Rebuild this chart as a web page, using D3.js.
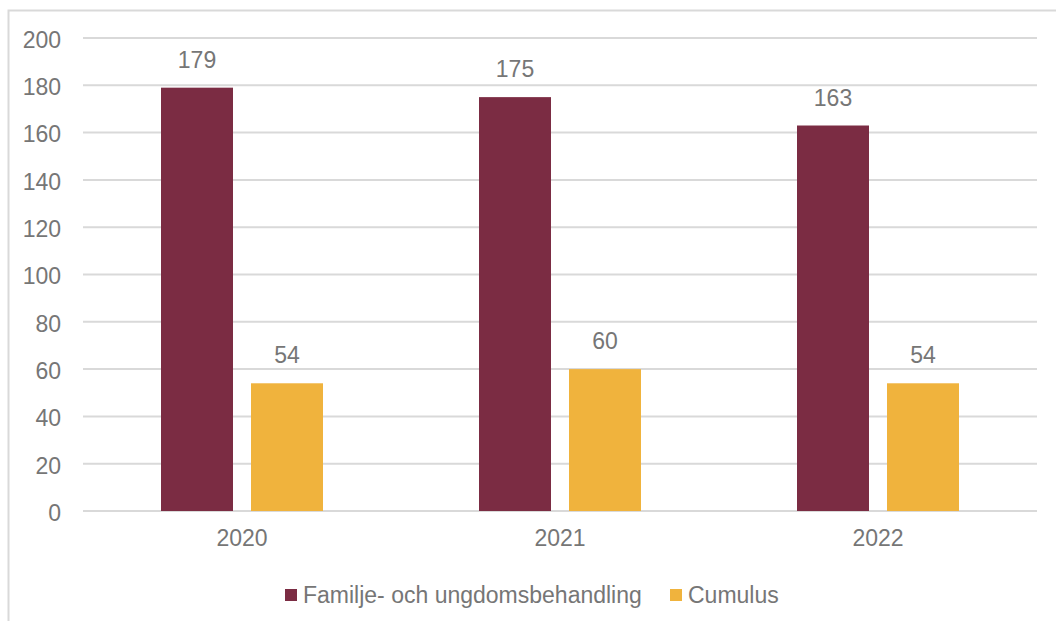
<!DOCTYPE html>
<html>
<head>
<meta charset="utf-8">
<script src="https://cdn.jsdelivr.net/npm/d3@7"></script>
<style>
  body { margin: 0; background: #fff; }
  text { font-family: "Liberation Sans", Arial, sans-serif; fill: #767676; }
</style>
</head>
<body>
<div id="chart"></div>
<script>
// data
const years = ["2020", "2021", "2022"]
const seriesNames = ["Familje- och ungdomsbehandling", "Cumulus"]
const familje = [179, 175, 163]
const cumulus = [54, 60, 54]
const yTicks = [0, 20, 40, 60, 80, 100, 120, 140, 160, 180, 200]
const colors = ["#7B2C43", "#F0B33D"]

const width = 1056, height = 621
const margin = { left: 83, right: 19, top: 38, bottom: 110 }
const fontSize = "23px"

const svg = d3.select("#chart").append("svg")
  .attr("width", width)
  .attr("height", height)

// outer chart border (only top and left edges are visible in the crop)
svg.append("rect")
  .attr("x", 8.5).attr("y", 10.5)
  .attr("width", width + 20).attr("height", height + 20)
  .attr("fill", "none")
  .attr("stroke", "#d9d9d9")
  .attr("stroke-width", 2)

const x = d3.scaleBand()
  .domain(years)
  .range([margin.left, width - margin.right])

const y = d3.scaleLinear()
  .domain([0, 200])
  .range([511, margin.top])

// gridlines
svg.selectAll(".grid").data(yTicks).enter()
  .append("line")
  .attr("class", "grid")
  .attr("x1", margin.left)
  .attr("x2", width - margin.right)
  .attr("y1", d => y(d))
  .attr("y2", d => y(d))
  .attr("stroke", "#d9d9d9")
  .attr("stroke-width", 2)

// y axis labels
const yAxis = d3.axisLeft(y).tickValues(yTicks).tickSize(0).tickPadding(0)
const gy = svg.append("g").attr("transform", "translate(61,2)").call(yAxis)
gy.select(".domain").remove()
gy.selectAll("text").style("font-size", fontSize).attr("fill", "#767676")
  .style("font-family", '"Liberation Sans", Arial, sans-serif')

// x axis labels
const xAxis = d3.axisBottom(x).tickSize(0).tickPadding(0)
const gx = svg.append("g").attr("transform", "translate(0,530)").call(xAxis)
gx.select(".domain").remove()
gx.selectAll("text").style("font-size", fontSize).attr("fill", "#767676")
  .style("font-family", '"Liberation Sans", Arial, sans-serif')

// bars
const barW = 72, gap = 18
const series = [familje, cumulus]
series.forEach((vals, si) => {
  const offset = si === 0 ? -(gap / 2 + barW) : gap / 2
  const g = svg.append("g")
  g.selectAll("rect").data(vals).enter()
    .append("rect")
    .attr("x", (d, i) => x(years[i]) + x.bandwidth() / 2 + offset)
    .attr("y", d => y(d))
    .attr("width", barW)
    .attr("height", d => y(0) - y(d))
    .attr("fill", colors[si])
  g.selectAll("text").data(vals).enter()
    .append("text")
    .attr("x", (d, i) => x(years[i]) + x.bandwidth() / 2 + offset + barW / 2)
    .attr("y", d => y(d) - 20)
    .attr("text-anchor", "middle")
    .style("font-size", fontSize)
    .text(d => d)
})

// legend
const legendX = [285, 670]
seriesNames.forEach((name, i) => {
  svg.append("rect")
    .attr("x", legendX[i]).attr("y", 589)
    .attr("width", 12).attr("height", 12)
    .attr("fill", colors[i])
  svg.append("text")
    .attr("x", legendX[i] + 18).attr("y", 603)
    .style("font-size", fontSize)
    .text(name)
})
</script>
</body>
</html>
